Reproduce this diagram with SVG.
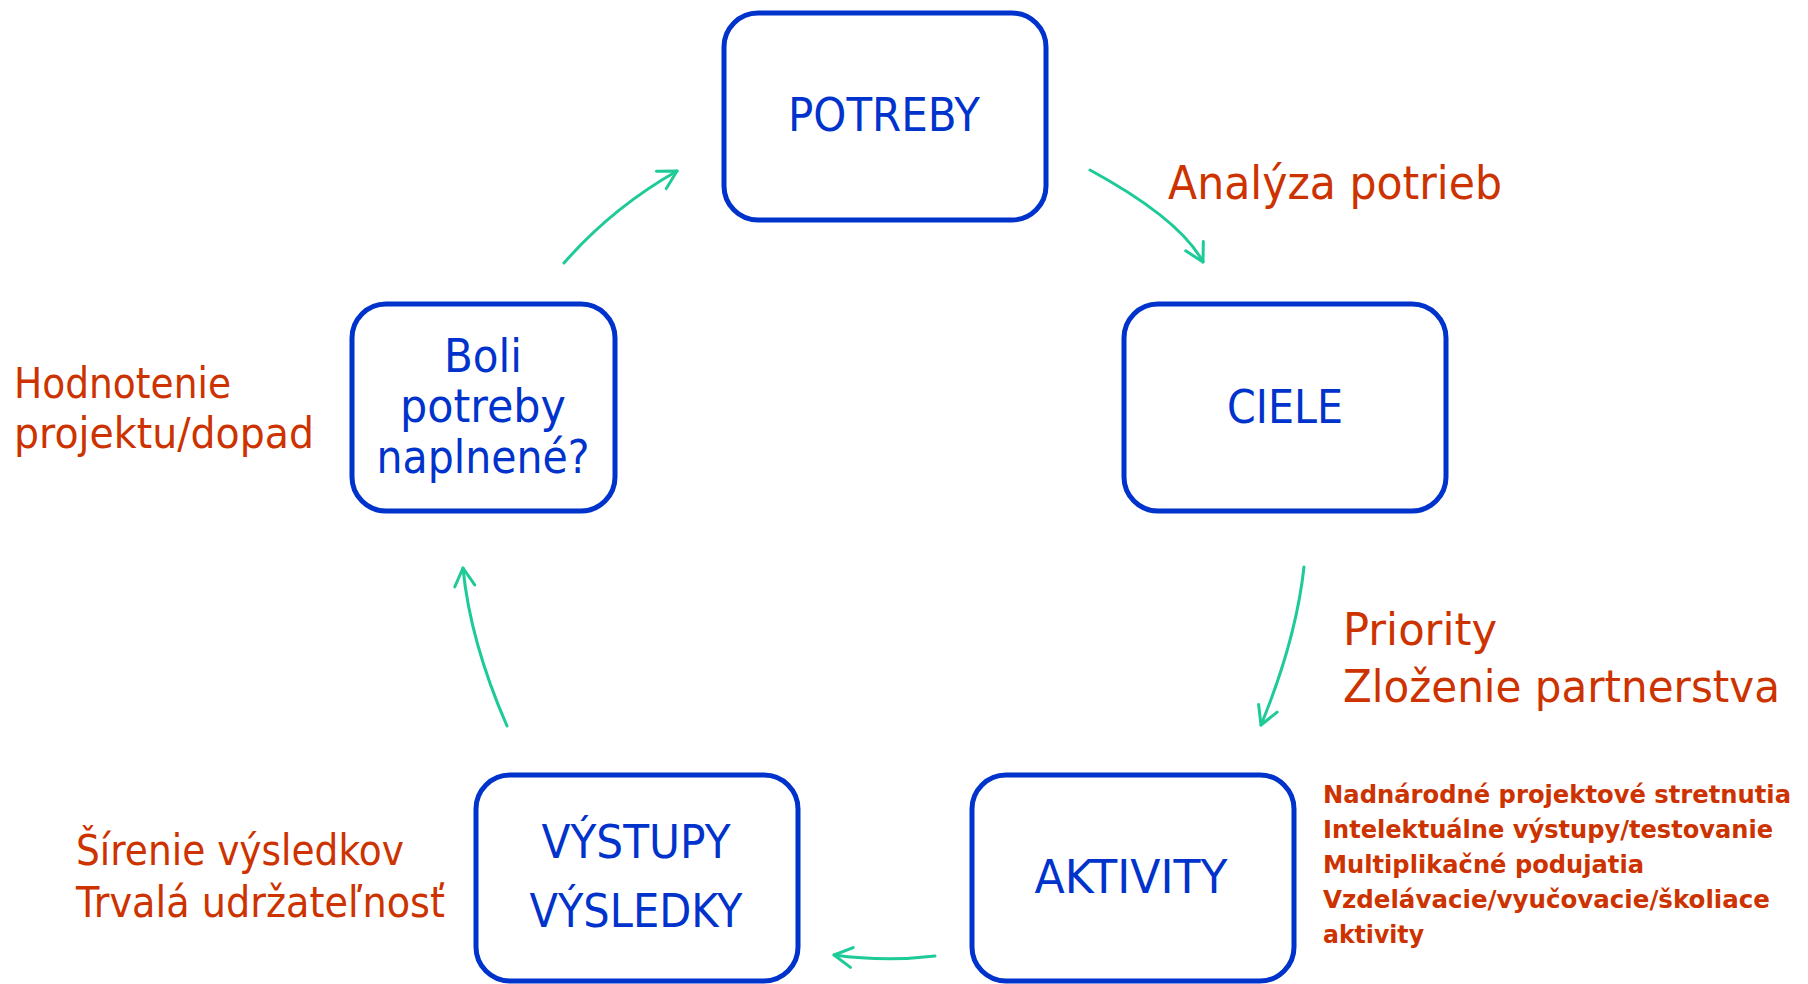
<svg xmlns="http://www.w3.org/2000/svg" width="1808" height="984" viewBox="0 0 1808 984">
<style>
.box{fill:#fff;stroke:#0033CC;stroke-width:5}
.bt{font-family:"DejaVu Sans","Liberation Sans",sans-serif;font-size:46px;fill:#0033CC;text-anchor:middle}
.lab{font-family:"DejaVu Sans","Liberation Sans",sans-serif;fill:#CC3300}
.lst{font-family:"DejaVu Sans","Liberation Sans",sans-serif;font-size:25px;font-weight:bold;fill:#CC3300}
.con{fill:none;stroke:#1ECB98;stroke-width:3;stroke-linecap:round;marker-end:url(#ah)}
</style>
<defs>
<marker id="ah" markerUnits="userSpaceOnUse" markerWidth="26" markerHeight="26" viewBox="-22 -13 26 26" refX="0" refY="0" orient="auto">
<path d="M-18,-10 L0,0 L-18,10" fill="none" stroke="#1ECB98" stroke-width="3" stroke-linecap="round" stroke-linejoin="round"/>
</marker>
</defs>
<rect width="1808" height="984" fill="#fff"/>
<g id="connectors">
<path class="con" d="M1090,170 Q1180,219 1203,262"/>
<path class="con" d="M1304,567 Q1296,640 1261,725"/>
<path class="con" d="M935,956 Q885,962 834,955"/>
<path class="con" d="M507,726 Q470,641 463,568"/>
<path class="con" d="M564,263 Q612,208 677,171"/>
</g>
<g id="potreby">
<rect class="box" x="724" y="13" width="322" height="207" rx="34"/>
<text class="bt" x="884" y="131" textLength="192" lengthAdjust="spacingAndGlyphs">POTREBY</text>
</g>
<g id="ciele">
<rect class="box" x="1124" y="304" width="322" height="207" rx="34"/>
<text class="bt" x="1285" y="423" textLength="116" lengthAdjust="spacingAndGlyphs">CIELE</text>
</g>
<g id="aktivity">
<rect class="box" x="972" y="775" width="322" height="206" rx="34"/>
<text class="bt" x="1131" y="893" textLength="193" lengthAdjust="spacingAndGlyphs">AKTIVITY</text>
</g>
<g id="vystupy">
<rect class="box" x="476" y="775" width="322" height="206" rx="34"/>
<text class="bt" x="636" y="858" textLength="189" lengthAdjust="spacingAndGlyphs">VÝSTUPY</text>
<text class="bt" x="636" y="927" textLength="213" lengthAdjust="spacingAndGlyphs">VÝSLEDKY</text>
</g>
<g id="boli">
<rect class="box" x="352" y="304" width="263" height="207" rx="34"/>
<text class="bt" x="483" y="372" textLength="78" lengthAdjust="spacingAndGlyphs">Boli</text>
<text class="bt" x="483" y="422" textLength="166" lengthAdjust="spacingAndGlyphs">potreby</text>
<text class="bt" x="483" y="473" textLength="213" lengthAdjust="spacingAndGlyphs">naplnené?</text>
</g>
<g id="labels">
<text class="lab" x="1168" y="199" font-size="46" textLength="334" lengthAdjust="spacingAndGlyphs">Analýza potrieb</text>
<text class="lab" x="1343" y="645" font-size="45" textLength="154" lengthAdjust="spacingAndGlyphs">Priority</text>
<text class="lab" x="1343" y="702" font-size="45" textLength="437" lengthAdjust="spacingAndGlyphs">Zloženie partnerstva</text>
<text class="lab" x="14" y="398" font-size="42" textLength="217" lengthAdjust="spacingAndGlyphs">Hodnotenie</text>
<text class="lab" x="14" y="448" font-size="42" textLength="300" lengthAdjust="spacingAndGlyphs">projektu/dopad</text>
<text class="lab" x="76" y="865" font-size="43" textLength="328" lengthAdjust="spacingAndGlyphs">Šírenie výsledkov</text>
<text class="lab" x="76" y="917" font-size="43" textLength="369" lengthAdjust="spacingAndGlyphs">Trvalá udržateľnosť</text>
</g>
<g id="activities-list">
<text class="lst" x="1323" y="803" textLength="468" lengthAdjust="spacingAndGlyphs">Nadnárodné projektové stretnutia</text>
<text class="lst" x="1323" y="838" textLength="450" lengthAdjust="spacingAndGlyphs">Intelektuálne výstupy/testovanie</text>
<text class="lst" x="1323" y="873" textLength="321" lengthAdjust="spacingAndGlyphs">Multiplikačné podujatia</text>
<text class="lst" x="1323" y="908" textLength="447" lengthAdjust="spacingAndGlyphs">Vzdelávacie/vyučovacie/školiace</text>
<text class="lst" x="1323" y="943" textLength="101" lengthAdjust="spacingAndGlyphs">aktivity</text>
</g>
</svg>
